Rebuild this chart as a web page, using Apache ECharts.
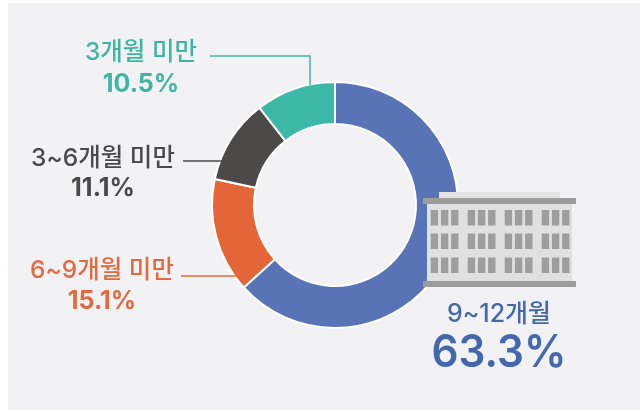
<!DOCTYPE html>
<html><head><meta charset="utf-8">
<style>html,body{margin:0;padding:0;background:#fff}#c{width:644px;height:411px}</style>
<script src="https://cdn.jsdelivr.net/npm/echarts@6/dist/echarts.min.js"></script>
</head><body><div id="c"></div>
<script>
const categories = ['9~12개월','6~9개월 미만','3~6개월 미만','3개월 미만'];
const shares = [63.3,15.1,11.1,10.5];
const colors = ['#5874b6','#e46638','#4b4a48','#3cb9a6'];
const textColors = ['#4468ac','#e26a3e','#4b4a4a','#3fb6a2'];
const font = 'Inter,"Noto Sans CJK KR","Noto Sans",sans-serif';

const chart = echarts.init(document.getElementById('c'),null,{renderer:'canvas'});
const g = [];
g.push({type:'rect',z:0,shape:{x:8,y:3,width:632,height:407},style:{fill:'#f2f2f5'}});

function label(i,cx,y1,y2,size1,size2,w1,w2,sx){
  g.push({type:'text',z:20,x:cx,y:y1,style:{x:0,y:0,text:categories[i],fill:textColors[i],font:`${w1} ${size1}px ${font}`,align:'center',verticalAlign:'middle'}});
  g.push({type:'text',z:20,x:cx,y:y2,scaleX:sx,style:{x:0,y:0,text:shares[i].toFixed(1)+'%',fill:textColors[i],font:`${w2} ${size2}px ${font}`,align:'center',verticalAlign:'middle'}});
}
label(3,141,53,84,24.5,25,500,700,1);
label(2,103,159,188,24.5,25,500,700,1);
label(1,102,271,301,24.5,25,500,700,1);
label(0,499,314,353,25,45,500,600,0.94);

function line(i,pts){
  g.push({type:'polyline',z:3,shape:{points:pts},style:{stroke:textColors[i],lineWidth:1.5,fill:null}});
}
line(3,[[210,56],[310,56],[310,85]]);
line(2,[[183,161],[222,161]]);
line(1,[[181,276],[238,276]]);

// building
const bz=10;
g.push({type:'rect',z:bz,shape:{x:439,y:192,width:121,height:7},style:{fill:'#e2e2e2'}});
g.push({type:'rect',z:bz,shape:{x:427,y:203,width:145,height:79},style:{fill:'#e0e0e0'}});
g.push({type:'rect',z:bz,shape:{x:423,y:198,width:153,height:6},style:{fill:'#9c9c9c'}});
g.push({type:'rect',z:bz,shape:{x:423,y:281,width:153,height:6},style:{fill:'#9c9c9c'}});
[210,233.5,257.5].forEach(y=>{
  [0,1,2,3].forEach(a=>{
    [0,1,2].forEach(b=>{
      g.push({type:'rect',z:bz+1,shape:{x:430.7+a*37+b*10.2,y:y,width:7.4,height:15.5},style:{fill:'#9e9e9e'}});
    });
  });
});

chart.setOption({
  animation:false,
  backgroundColor:'#ffffff',
  graphic:{elements:g},
  series:[{
    type:'pie',
    z:2,
    center:[335,205],
    radius:[81,123],
    startAngle:90,
    clockwise:true,
    silent:true,
    label:{show:false},
    labelLine:{show:false},
    itemStyle:{borderColor:'#ffffff',borderWidth:2},
    data:categories.map((n,i)=>({name:n,value:shares[i],itemStyle:{color:colors[i]}}))
  }]
});
</script></body></html>
